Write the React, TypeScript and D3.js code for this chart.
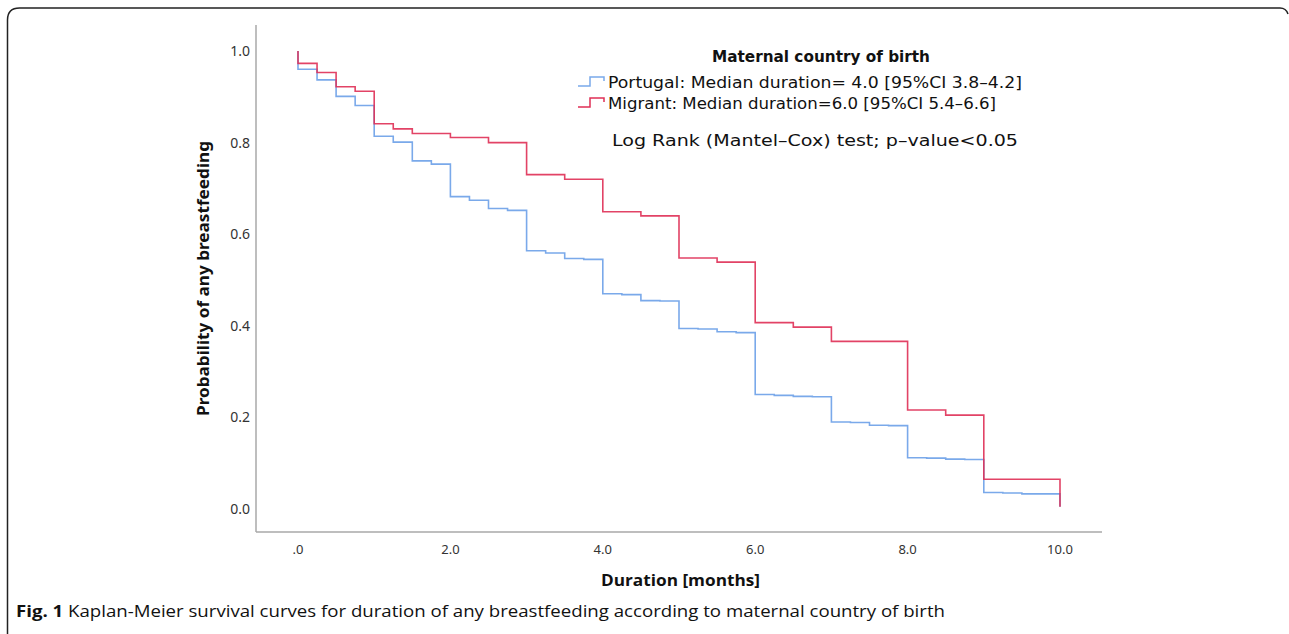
import React from "react";
import * as d3 from "d3";

const portugalTimes = [0, 0, 0.25, 0.5, 0.75, 1.0, 1.25, 1.5, 1.75, 2.0, 2.25, 2.5, 2.75, 3.0, 3.25, 3.5, 3.75, 4.0, 4.25, 4.5, 4.75, 5.0, 5.25, 5.5, 5.75, 6.0, 6.25, 6.5, 6.75, 7.0, 7.25, 7.5, 7.75, 8.0, 8.25, 8.5, 8.75, 9.0, 9.25, 9.5, 9.75, 10.0, 10.0];
const portugalSurv = [1.0, 0.96, 0.937, 0.901, 0.881, 0.814, 0.801, 0.76, 0.753, 0.682, 0.674, 0.656, 0.652, 0.564, 0.559, 0.547, 0.545, 0.47, 0.468, 0.455, 0.454, 0.394, 0.393, 0.387, 0.385, 0.25, 0.248, 0.246, 0.245, 0.19, 0.189, 0.183, 0.182, 0.112, 0.111, 0.109, 0.108, 0.036, 0.035, 0.033, 0.033, 0.033, 0.005];

const migrantTimes = [0, 0, 0.25, 0.5, 0.75, 1.0, 1.25, 1.5, 2.0, 2.5, 3.0, 3.5, 4.0, 4.5, 5.0, 5.5, 6.0, 6.5, 7.0, 8.0, 8.5, 9.0, 10.0, 10.0];
const migrantSurv = [1.0, 0.973, 0.953, 0.922, 0.912, 0.841, 0.83, 0.82, 0.811, 0.8, 0.73, 0.72, 0.649, 0.64, 0.548, 0.539, 0.407, 0.397, 0.366, 0.216, 0.205, 0.065, 0.065, 0.005];

const xTicks = [0, 2, 4, 6, 8, 10];
const xTickLabels = [".0", "2.0", "4.0", "6.0", "8.0", "10.0"];
const yTicks = [0, 0.2, 0.4, 0.6, 0.8, 1.0];
const yTickLabels = ["0.0", "0.2", "0.4", "0.6", "0.8", "1.0"];

const legendTitle = "Maternal country of birth";
const legendLabels = [
  "Portugal: Median duration= 4.0 [95%CI 3.8\u20134.2]",
  "Migrant: Median duration=6.0 [95%CI 5.4\u20136.6]",
];
const testText = "Log Rank (Mantel\u2013Cox) test; p\u2013value<0.05";
const xTitle = "Duration [months]";
const yTitle = "Probability of any breastfeeding";
const captionBold = "Fig. 1";
const captionText = " Kaplan-Meier survival curves for duration of any breastfeeding according to maternal country of birth";

const BLUE = "#7aa9ea";
const RED = "#df2f55";

export default function App() {
  const x = d3.scaleLinear().domain([0, 10]).range([298, 1060]);
  const y = d3.scaleLinear().domain([0, 1]).range([509, 51]);
  const line = d3
    .line<[number, number]>()
    .x((d) => x(d[0]))
    .y((d) => y(d[1]))
    .curve(d3.curveStepAfter);

  const blueData: [number, number][] = portugalTimes.map((t, i) => [t, portugalSurv[i]]);
  const redData: [number, number][] = migrantTimes.map((t, i) => [t, migrantSurv[i]]);

  const axisColor = "#a8a8a8";
  const textColor = "#333";
  const tickFont = "'Noto Sans', 'Open Sans', sans-serif";
  const legendFont = "'DejaVu Sans', sans-serif";

  const legendSymbol = (yy: number) =>
    `M578,${yy + 4} H590 V${yy - 5} H604 V${yy - 1}`;

  return (
    <svg
      width={1289}
      height={634}
      style={{ position: "absolute", left: 0, top: 0, background: "#fff" }}
    >
      <rect x={0} y={0} width={1289} height={634} fill="#fff" />
      {/* frame */}
      <path
        d="M7.5,634 V20 Q7.5,8 19.5,8 H1280 Q1286,8 1288,14"
        fill="none"
        stroke="#222"
        strokeWidth={1.5}
      />
      {/* axes */}
      <line x1={256} y1={25} x2={256} y2={532} stroke={axisColor} strokeWidth={1.5} />
      <line x1={256} y1={532} x2={1102} y2={532} stroke={axisColor} strokeWidth={1.5} />

      {yTicks.map((t, i) => (
        <text
          key={"y" + i}
          x={250}
          y={y(t)}
          dy="0.35em"
          textAnchor="end"
          fontFamily={tickFont}
          fontSize={14}
          fill={textColor}
        >
          {yTickLabels[i]}
        </text>
      ))}
      {xTicks.map((t, i) => (
        <text
          key={"x" + i}
          x={x(t)}
          y={554}
          textAnchor="middle"
          fontFamily={tickFont}
          fontSize={13}
          fill={textColor}
        >
          {xTickLabels[i]}
        </text>
      ))}

      <text
        x={601}
        y={586}
        fontFamily="'Open Sans', sans-serif"
        fontWeight="bold"
        fontSize={16}
        fill="#111"
        textLength={159}
        lengthAdjust="spacingAndGlyphs"
      >
        {xTitle}
      </text>
      <text
        transform={`translate(209,416) rotate(-90)`}
        fontFamily="'Noto Sans', sans-serif"
        fontWeight="bold"
        fontSize={16}
        fill="#111"
        textLength={275}
        lengthAdjust="spacingAndGlyphs"
      >
        {yTitle}
      </text>

      {/* curves */}
      <path d={line(blueData) || ""} fill="none" stroke={BLUE} strokeWidth={1.6} />
      <path d={line(redData) || ""} fill="none" stroke={RED} strokeWidth={1.6} strokeOpacity={0.9} />

      {/* legend */}
      <text
        x={712}
        y={62}
        fontFamily={legendFont}
        fontWeight="bold"
        fontSize={15}
        fill="#111"
        textLength={218}
        lengthAdjust="spacingAndGlyphs"
      >
        {legendTitle}
      </text>
      <path d={legendSymbol(82)} fill="none" stroke={BLUE} strokeWidth={1.5} />
      <path d={legendSymbol(103)} fill="none" stroke={RED} strokeWidth={1.5} />
      <text
        x={608}
        y={88}
        fontFamily={legendFont}
        fontSize={16}
        fill="#111"
        textLength={414}
        lengthAdjust="spacingAndGlyphs"
      >
        {legendLabels[0]}
      </text>
      <text
        x={608}
        y={109}
        fontFamily={legendFont}
        fontSize={16}
        fill="#111"
        textLength={388}
        lengthAdjust="spacingAndGlyphs"
      >
        {legendLabels[1]}
      </text>
      <text
        x={612}
        y={146}
        fontFamily={legendFont}
        fontSize={16}
        fill="#111"
        textLength={406}
        lengthAdjust="spacingAndGlyphs"
      >
        {testText}
      </text>

      {/* caption */}
      <text
        x={16}
        y={617}
        fontFamily="'Open Sans', sans-serif"
        fontSize={16}
        fill="#111"
        textLength={929}
        lengthAdjust="spacingAndGlyphs"
      >
        <tspan fontWeight="bold">{captionBold}</tspan>
        <tspan>{captionText}</tspan>
      </text>
    </svg>
  );
}
